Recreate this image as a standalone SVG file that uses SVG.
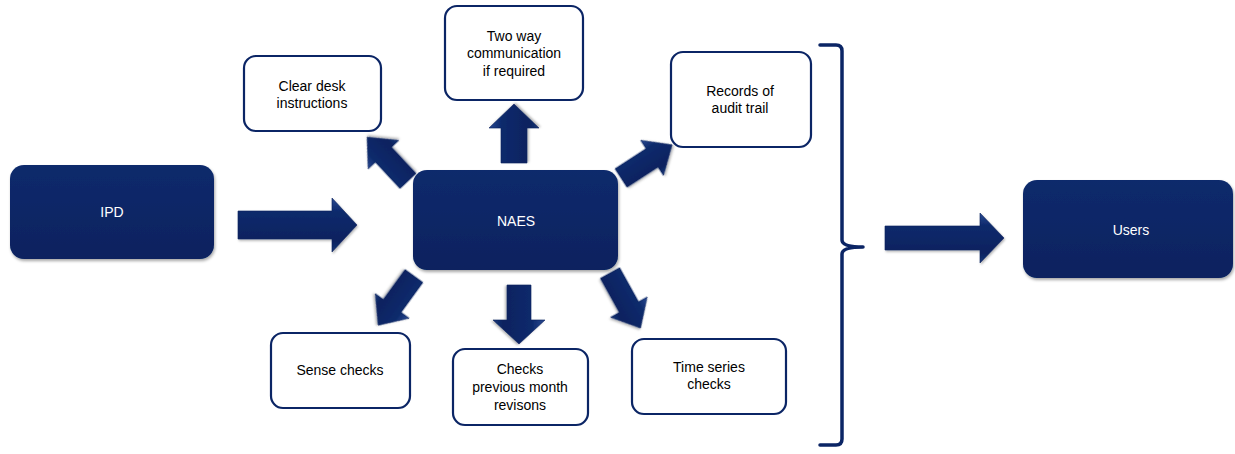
<svg xmlns="http://www.w3.org/2000/svg" width="1235" height="454" viewBox="0 0 1235 454">
<style>
.dark{fill:url(#boxg);filter:url(#sh);}
.light{fill:#ffffff;stroke:#0b2565;stroke-width:2.2;}
.arrow{fill:url(#arrg);stroke:#0a215c;stroke-width:0.6;filter:url(#sh2);}
.tw{font-family:"Liberation Sans",Arial,sans-serif;font-size:14px;fill:#ffffff;text-anchor:middle;}
.tb{font-family:"Liberation Sans",Arial,sans-serif;font-size:14px;fill:#000000;text-anchor:middle;}
.brace{fill:none;stroke:#0b2565;stroke-width:3.5;stroke-linecap:round;stroke-linejoin:round;}
</style>
<defs>
<linearGradient id="boxg" x1="0" y1="0" x2="0" y2="1">
<stop offset="0" stop-color="#0d2a6c"/>
<stop offset="1" stop-color="#07225f"/>
</linearGradient>
<linearGradient id="arrg" x1="0" y1="0" x2="0" y2="1">
<stop offset="0" stop-color="#2a4a92"/>
<stop offset="0.25" stop-color="#0d2a6c"/>
<stop offset="0.8" stop-color="#08225f"/>
<stop offset="1" stop-color="#1a3777"/>
</linearGradient>
<filter id="sh" x="-10%" y="-10%" width="120%" height="130%">
<feDropShadow dx="1" dy="2" stdDeviation="1.5" flood-color="#000" flood-opacity="0.35"/>
</filter>
<filter id="sh2" x="-20%" y="-20%" width="140%" height="140%">
<feDropShadow dx="1" dy="1.5" stdDeviation="1" flood-color="#000" flood-opacity="0.3"/>
</filter>
</defs>

<g id="connectors">
<polygon class="arrow" transform="translate(238,225)" points="0,-14 94,-14 94,-27 119,0 94,27 94,14 0,14"/>
<polygon class="arrow" transform="translate(885,238)" points="0,-12 95,-12 95,-25 119,0 95,25 95,12 0,12"/>
<polygon class="arrow" transform="translate(514,163) rotate(-90)" points="0,-13 35,-13 35,-25 59,0 35,25 35,13 0,13"/>
<polygon class="arrow" transform="translate(519,285) rotate(90)" points="0,-12 35,-12 35,-26 59,0 35,26 35,12 0,12"/>
<polygon class="arrow" transform="translate(408,181) rotate(227)" points="0,-11 36,-11 36,-21 60,0 36,21 36,11 0,11"/>
<polygon class="arrow" transform="translate(621,178) rotate(-33)" points="0,-11 37,-11 37,-21 61,0 37,21 37,11 0,11"/>
<polygon class="arrow" transform="translate(414,276) rotate(126)" points="0,-11 37,-11 37,-21 61,0 37,21 37,11 0,11"/>
<polygon class="arrow" transform="translate(610,273) rotate(61)" points="0,-11 39,-11 39,-21 63,0 39,21 39,11 0,11"/>
<path id="brace" class="brace" d="M820,45 H836 Q842,45 842,51 V240 Q842,247 863,247 Q842,247 842,254 V439 Q842,445 836,445 H820"/>
</g>

<g id="node-ipd">
<rect class="dark" x="10" y="165" width="204" height="94" rx="14"/>
<text class="tw" x="112" y="217">IPD</text>
</g>
<g id="node-naes">
<rect class="dark" x="413" y="170" width="205" height="100" rx="14"/>
<text class="tw" x="516" y="226">NAES</text>
</g>
<g id="node-users">
<rect class="dark" x="1023" y="180" width="210" height="98" rx="14"/>
<text class="tw" x="1131" y="235">Users</text>
</g>
<g id="node-clear-desk">
<rect class="light" x="244" y="56" width="137" height="75" rx="12"/>
<text class="tb" x="312" y="91">Clear desk</text>
<text class="tb" x="312" y="108">instructions</text>
</g>
<g id="node-two-way">
<rect class="light" x="445" y="6" width="138" height="94" rx="12"/>
<text class="tb" x="514" y="41">Two way</text>
<text class="tb" x="514" y="58">communication</text>
<text class="tb" x="514" y="76">if required</text>
</g>
<g id="node-records">
<rect class="light" x="671" y="52" width="140" height="95" rx="12"/>
<text class="tb" x="740" y="96">Records of</text>
<text class="tb" x="740" y="113">audit trail</text>
</g>
<g id="node-sense">
<rect class="light" x="271" y="333" width="139" height="75" rx="12"/>
<text class="tb" x="340" y="375">Sense checks</text>
</g>
<g id="node-checks-prev">
<rect class="light" x="453" y="349" width="135" height="76" rx="12"/>
<text class="tb" x="520" y="374">Checks</text>
<text class="tb" x="520" y="392">previous month</text>
<text class="tb" x="520" y="410">revisons</text>
</g>
<g id="node-time-series">
<rect class="light" x="632" y="339" width="154" height="75" rx="12"/>
<text class="tb" x="709" y="372">Time series</text>
<text class="tb" x="709" y="389">checks</text>
</g>
</svg>
